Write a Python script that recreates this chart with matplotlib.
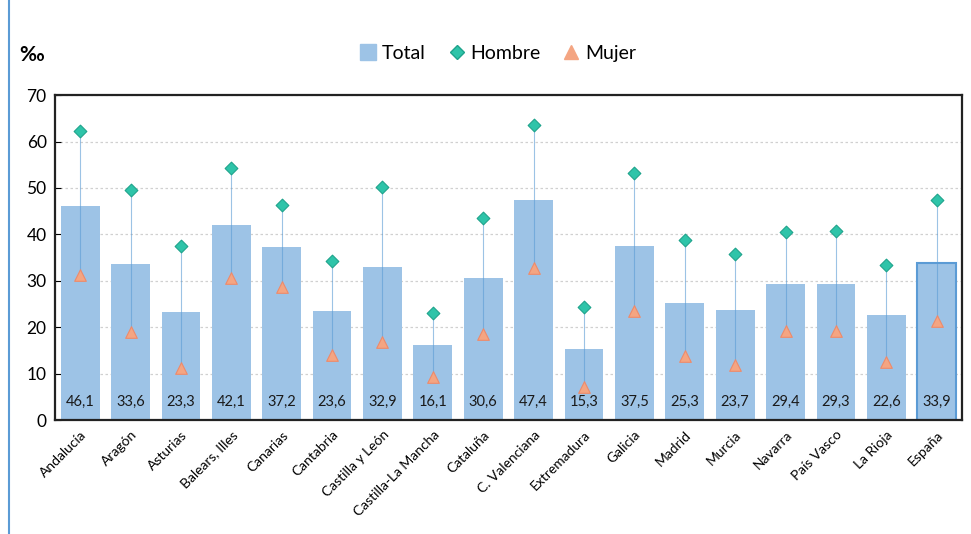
import matplotlib.pyplot as plt
import matplotlib.lines as mlines
import numpy as np

plt.rcParams['font.family'] = ['Lato', 'DejaVu Sans']

regiones = ['Andalucía', 'Aragón', 'Asturias', 'Balears, Illes', 'Canarias',
            'Cantabria', 'Castilla y León', 'Castilla-La Mancha', 'Cataluña',
            'C. Valenciana', 'Extremadura', 'Galicia', 'Madrid', 'Murcia',
            'Navarra', 'País Vasco', 'La Rioja', 'España']
total = [46.1, 33.6, 23.3, 42.1, 37.2, 23.6, 32.9, 16.1, 30.6,
         47.4, 15.3, 37.5, 25.3, 23.7, 29.4, 29.3, 22.6, 33.9]
hombre = [62.2, 49.5, 37.5, 54.3, 46.3, 34.2, 50.2, 23.0, 43.5,
          63.5, 24.3, 53.2, 38.8, 35.8, 40.5, 40.7, 33.4, 47.4]
mujer = [31.2, 19.0, 11.2, 30.6, 28.6, 14.0, 16.8, 9.3, 18.5,
         32.7, 7.1, 23.5, 13.8, 11.8, 19.2, 19.2, 12.5, 21.3]
yticks = [0, 10, 20, 30, 40, 50, 60, 70]

bar_color = '#9DC3E6'
h_color = '#2EC4A9'
m_color = '#F4A582'

fig = plt.figure(figsize=(9.71, 5.34), dpi=100)
ax = fig.add_axes([0.0566, 0.213, 0.934, 0.609])

x = np.arange(len(regiones))
edges = ['none'] * (len(regiones) - 1) + ['#5B9BD5']
bars = ax.bar(x, total, width=0.77, color=bar_color, edgecolor=edges,
              linewidth=1.5, zorder=2)

# vertical connector between women and men
ax.vlines(x, mujer, hombre, color='#5B9BD5', linewidth=0.8, alpha=0.6, zorder=3)
ax.scatter(x, hombre, marker='D', s=42, color=h_color, edgecolor='#1FA38C',
           linewidth=0.8, zorder=4)
ax.scatter(x, mujer, marker='^', s=70, color=m_color, edgecolor='#EE8A6A',
           linewidth=0.8, zorder=4)

for xi, v in zip(x, total):
    ax.text(xi, 4, f'{v:.1f}'.replace('.', ','), ha='center', va='center',
            fontsize=10.5, color='#1a1a1a', zorder=5)

ax.set_xlim(-0.5, len(regiones) - 0.5)
ax.set_ylim(0, 70)
ax.set_yticks(yticks)
ax.tick_params(axis='y', labelsize=12.5, length=4, direction='in', pad=6)
ax.set_xticks(x)
ax.set_xticklabels(regiones, rotation=45, ha='right', rotation_mode='anchor',
                   fontsize=10)
ax.tick_params(axis='x', length=0, pad=6)
ax.yaxis.grid(True, linestyle=(0, (2, 2)), color='#D0D0D0', linewidth=0.9, zorder=0)
ax.set_axisbelow(True)
for s in ax.spines.values():
    s.set_color('#222222')
    s.set_linewidth(1.6)

fig.text(0.02, 0.897, '‰', fontsize=15, fontweight='bold', va='center')

handles = [
    mlines.Line2D([], [], marker='s', linestyle='none', markersize=12,
                  color=bar_color, label='Total'),
    mlines.Line2D([], [], marker='D', linestyle='none', markersize=7,
                  color=h_color, markeredgecolor='#1FA38C', label='Hombre'),
    mlines.Line2D([], [], marker='^', linestyle='none', markersize=10,
                  color=m_color, label='Mujer'),
]
fig.legend(handles=handles, loc='center', bbox_to_anchor=(0.51, 0.9), ncol=3,
           frameon=False, fontsize=14, handletextpad=0.0, columnspacing=0.9,
           handlelength=1.4)

# left frame edge
fig.add_artist(mlines.Line2D([0.009, 0.009], [0, 1], color='#5B9BD5',
                             linewidth=1.5))

fig.savefig('out.png', dpi=100)
